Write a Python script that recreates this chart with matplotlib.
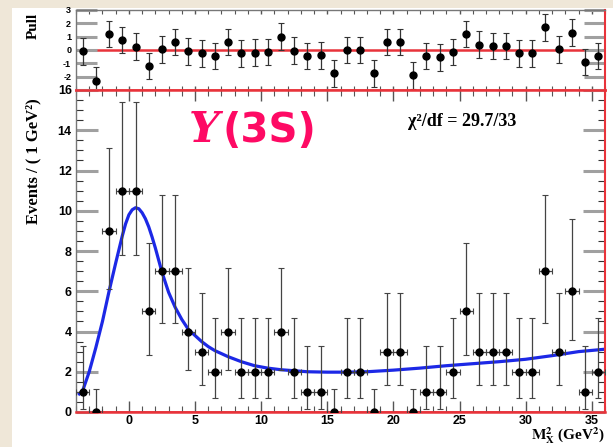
import numpy as np
import matplotlib
matplotlib.use("Agg")
import matplotlib.pyplot as plt
from matplotlib.patches import Rectangle

# ---- data ----
bin_centers = [-3.5, -2.5, -1.5, -0.5, 0.5, 1.5, 2.5, 3.5, 4.5, 5.5,
               6.5, 7.5, 8.5, 9.5, 10.5, 11.5, 12.5, 13.5, 14.5, 15.5,
               16.5, 17.5, 18.5, 19.5, 20.5, 21.5, 22.5, 23.5, 24.5, 25.5,
               26.5, 27.5, 28.5, 29.5, 30.5, 31.5, 32.5, 33.5, 34.5, 35.5]
counts = [1, 0, 9, 11, 11, 5, 7, 7, 4, 3,
          2, 4, 2, 2, 2, 4, 2, 1, 1, 0,
          2, 2, 0, 3, 3, 0, 1, 1, 2, 5,
          3, 3, 3, 2, 2, 7, 3, 6, 1, 2]
bar_low = {0: 0.0, 1: 0.17, 2: 0.7, 3: 1.35, 4: 2.1, 5: 2.85, 6: 3.6, 7: 4.4, 9: 6.1, 11: 7.8}
bar_high = {0: 1.15, 1: 3.3, 2: 4.65, 3: 5.9, 4: 7.15, 5: 8.4, 6: 9.6, 7: 10.8, 9: 13.1, 11: 15.4}

pulls = [-0.1, -2.3, 1.2, 0.75, 0.25, -1.2, 0.05, 0.6, -0.1, -0.25,
         -0.45, 0.6, -0.25, -0.2, -0.15, 1.0, -0.05, -0.45, -0.4, -1.75,
         0.0, 0.0, -1.75, 0.6, 0.6, -1.9, -0.45, -0.55, -0.15, 1.2,
         0.4, 0.3, 0.3, -0.25, -0.25, 1.7, 0.05, 1.3, -0.9, -0.45]

fit_x = [-3.75, -3.5, -3, -2.5, -2, -1.5, -1, -0.5, -0.25, 0, 0.25, 0.5, 0.75, 1,
         1.25, 1.5, 1.75, 2, 2.5, 3, 3.5, 4, 4.5, 5, 5.5, 6, 6.5, 7.5, 8.5, 9.5,
         10.5, 11.5, 12.5, 13.5, 15, 16.5, 18, 20, 22, 24, 26, 28, 30, 32, 34, 36]
fit_y = [0.9, 1.05, 2.0, 3.2, 4.5, 6.0, 7.4, 8.75, 9.35, 9.8, 10.05, 10.15, 10.1, 9.9,
         9.6, 9.2, 8.7, 8.15, 6.95, 5.95, 5.2, 4.6, 4.1, 3.8, 3.5, 3.25, 3.05, 2.75, 2.5, 2.3,
         2.18, 2.1, 2.05, 2.0, 1.98, 1.98, 2.0, 2.08, 2.18, 2.3, 2.4, 2.5, 2.62, 2.8, 3.0, 3.12]

x = np.array(bin_centers)
y = np.array(counts)
yerr = np.array([[c - bar_low[c] for c in counts], [bar_high[c] - c for c in counts]])

W, H = 613, 447
def box(l, t, r, b):
    return [l / W, 1 - b / H, (r - l) / W, (b - t) / H]

fig = plt.figure(figsize=(W / 100, H / 100), dpi=100, facecolor="#efe7d8")
fig.patches.append(Rectangle((12 / W, 0), 1 - 12 / W, 1 - 8 / H, transform=fig.transFigure,
                             facecolor="white", edgecolor="none", zorder=-10))

serif = "Liberation Serif"
sans = "Liberation Sans"
red = "#e8333a"

def style(ax, ymajor_len):
    ax.set_facecolor("white")
    ax.tick_params(axis="both", which="both", direction="in", top=True, right=True)
    ax.tick_params(axis="y", which="major", length=ymajor_len, width=2.2, color="#a0a0a0")
    ax.tick_params(axis="y", which="minor", length=5, width=0.8, color="#333333")
    ax.tick_params(axis="x", which="major", length=8, width=1.0, color="#555555")
    ax.tick_params(axis="x", which="minor", length=4, width=0.8, color="#555555")
    for s in ax.spines.values():
        s.set_color("#777777")
        s.set_linewidth(1.0)
    ax.spines["right"].set_color(red)
    ax.spines["right"].set_linewidth(1.5)

# ---- pull panel ----
axp = fig.add_axes(box(76, 10, 605, 90))
axp.set_xlim(-4, 36)
axp.set_ylim(-3, 3)
axp.errorbar(x, pulls, yerr=1.0, fmt="o", color="black", ms=5, elinewidth=0.9,
             ecolor="#333333", capsize=2, capthick=0.8)
axp.axhline(0, color=red, lw=1.8, zorder=1)
axp.set_yticks([-2, -1, 0, 1, 2, 3])
axp.set_yticklabels(["-2", "-1", "0", "1", "2", "3"], fontsize=6.5, fontweight="bold", family=sans)
axp.set_xticks(np.arange(-4, 37, 1), minor=True)
axp.set_xticks([0, 5, 10, 15, 20, 25, 30, 35])
axp.set_xticklabels([])
style(axp, 15)
axp.tick_params(axis="x", which="both", length=3)
axp.spines["bottom"].set_color(red)
axp.spines["bottom"].set_linewidth(1.8)

# ---- main panel ----
ax = fig.add_axes(box(76, 90, 605, 412))
ax.set_xlim(-4, 36)
ax.set_ylim(0, 16)
ax.plot(fit_x, fit_y, color="#1c28e6", lw=2.3, zorder=2)
ax.errorbar(x, y, xerr=0.5, yerr=yerr, fmt="o", color="black", ms=5, elinewidth=0.9,
            ecolor="#444444", capsize=2, capthick=0.8, zorder=3)
ax.axhline(0, color=red, lw=2.0, zorder=1)
ax.set_yticks(np.arange(0, 17, 2))
ax.set_yticks(np.arange(0, 16.1, 0.5), minor=True)
ax.set_yticklabels([str(v) for v in range(0, 17, 2)], fontsize=9, fontweight="bold", family=sans)
ax.set_xticks([0, 5, 10, 15, 20, 25, 30, 35])
ax.set_xticks(np.arange(-4, 37, 1), minor=True)
ax.set_xticklabels(["0", "5", "10", "15", "20", "25", "30", "35"], fontsize=9,
                   fontweight="bold", family=sans)
style(ax, 16)
ax.spines["top"].set_color(red)
ax.spines["top"].set_linewidth(1.8)
ax.spines["bottom"].set_color(red)
ax.spines["bottom"].set_linewidth(1.8)
ax.tick_params(axis="y", which="both", pad=3)
ax.tick_params(axis="x", which="major", pad=2)

# ---- texts ----
plt.rcParams["mathtext.fontset"] = "stix"
fig.text(33 / W, 1 - 26 / H, "Pull", rotation=90, ha="center", va="center",
         fontsize=11, fontweight="bold", family=serif)
fig.text(33 / W, 1 - 98 / H, "Events / ( 1 GeV²)", rotation=90, ha="center", va="top",
         fontsize=12, fontweight="bold", family=serif)
fig.text(605 / W, 0.002, r"$\mathbf{M}_{\mathbf{X}}^{\mathbf{2}}$ (GeV$^{\mathbf{2}}$)",
         ha="right", va="bottom", fontsize=11, fontweight="bold", family=serif)
fig.text(462 / W, 1 - 122 / H, "χ²/df = 29.7/33", ha="center", va="center",
         fontsize=13, fontweight="bold", family=serif)
fig.text(189 / W, 1 - 142 / H, "Υ", ha="left", va="baseline", fontsize=31,
         fontweight="bold", fontstyle="italic", family="DejaVu Serif", color="#fe0a64")
fig.text(223 / W, 1 - 142 / H, "(3S)", ha="left", va="baseline", fontsize=29,
         fontweight="bold", family="DejaVu Sans", color="#fe0a64")

fig.savefig("out.png", dpi=100, facecolor=fig.get_facecolor())
